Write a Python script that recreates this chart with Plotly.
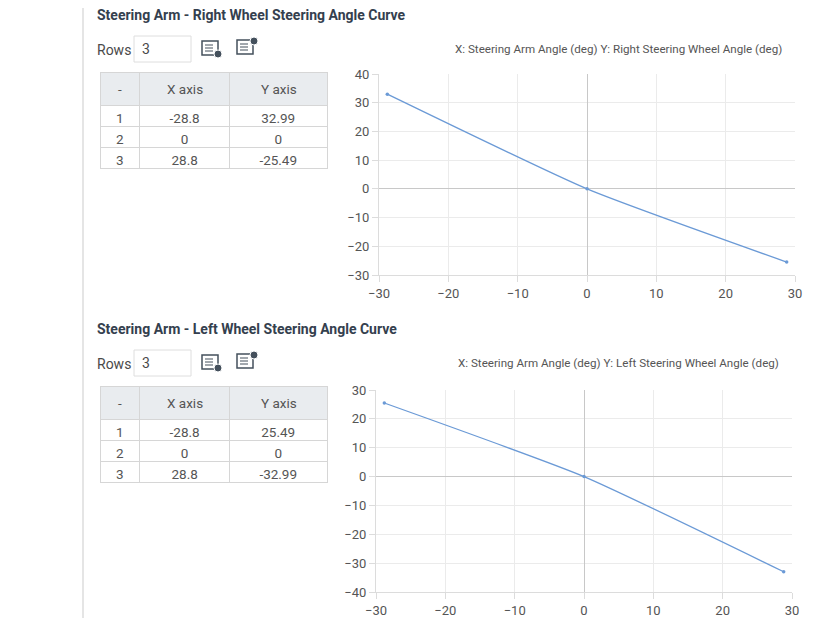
import plotly.graph_objects as go

# page body adds an 8px margin, so the figure is drawn 8px smaller and shifted
OFF = 8
W, H = 818 - OFF, 618 - OFF

# data
arm_angle = [-28.8, 0, 28.8]
right_wheel = [32.99, 0, -25.49]
left_wheel = [25.49, 0, -32.99]
row_ids = ["1", "2", "3"]
col_names = ["-", "X axis", "Y axis"]
x_ticks = [-30, -20, -10, 0, 10, 20, 30]
right_y_ticks = [-30, -20, -10, 0, 10, 20, 30, 40]
left_y_ticks = [-40, -30, -20, -10, 0, 10, 20, 30]


def px(x):
    return (x - OFF) / W


def py(y):
    return 1 - (y - OFF) / H


TITLE_C = "#34404e"
TEXT_C = "#555555"
GRID_C = "#ebebeb"
LINE_C = "#6b9ad6"
FONT = "Roboto"

fig = go.Figure()

# vertical separator on the left
fig.add_shape(type="line", xref="paper", yref="paper", x0=px(83), x1=px(83), y0=0, y1=1.02,
              line=dict(color="#dcdcdc", width=1.5))


def section(top, title, ys, chart_title, xa, ya, plot_box, y_range, y_ticks):
    # section heading
    fig.add_annotation(text="<b>" + title + "</b>", xref="paper", yref="paper",
                       x=px(95), y=py(top + 15), xanchor="left", yanchor="middle",
                       showarrow=False, font=dict(family=FONT, size=14, color=TITLE_C))
    # rows control
    fig.add_annotation(text="Rows", xref="paper", yref="paper",
                       x=px(95), y=py(top + 50), xanchor="left", yanchor="middle",
                       showarrow=False, font=dict(family=FONT, size=14, color="#4a4a4a"))
    fig.add_shape(type="path", xref="paper", yref="paper",
                  path="M {a},{b} L {c},{b} L {c},{d} L {a},{d} Z".format(
                      a=px(134), b=py(top + 36), c=px(191), d=py(top + 62)),
                  line=dict(color="#dedede", width=1), fillcolor="white")
    fig.add_annotation(text="3", xref="paper", yref="paper",
                       x=px(140), y=py(top + 49), xanchor="left", yanchor="middle",
                       showarrow=False, font=dict(family=FONT, size=14, color="#4a4a4a"))
    # two small table icons
    ic = "#44505c"
    for x0, y0 in [(202, top + 41), (237, top + 40)]:
        fig.add_shape(type="rect", xref="paper", yref="paper",
                      x0=px(x0), x1=px(x0 + 16), y0=py(y0), y1=py(y0 + 14),
                      line=dict(color=ic, width=1.5))
        for k in range(3):
            fig.add_shape(type="line", xref="paper", yref="paper",
                          x0=px(x0 + 3), x1=px(x0 + 11), y0=py(y0 + 4 + k * 3),
                          y1=py(y0 + 4 + k * 3), line=dict(color=ic, width=1))
    fig.add_shape(type="circle", xref="paper", yref="paper",
                  x0=px(214), x1=px(222), y0=py(top + 50), y1=py(top + 58),
                  line=dict(color="white", width=1), fillcolor=ic)
    fig.add_shape(type="circle", xref="paper", yref="paper",
                  x0=px(250), x1=px(258), y0=py(top + 37), y1=py(top + 45),
                  line=dict(color="white", width=1), fillcolor=ic)

    # data table (header labels placed as annotations so they sit centred)
    fig.add_trace(go.Table(
        domain=dict(x=[px(100), px(328)], y=[py(top + 175), py(top + 72)]),
        columnwidth=[40, 90, 98],
        header=dict(values=["", "", ""], height=33,
                    fill_color="#e9ecef", line_color="#d6d6d6",
                    font=dict(family=FONT, size=13.5, color=TEXT_C), align="center"),
        cells=dict(values=[row_ids, arm_angle, ys], height=21,
                   fill_color="white", line_color="#d6d6d6",
                   font=dict(family=FONT, size=13.5, color=TEXT_C), align="center"),
    ))
    for name, cx in zip(col_names, [120, 185, 279]):
        fig.add_annotation(text=name, xref="paper", yref="paper",
                           x=px(cx), y=py(top + 89), xanchor="center", yanchor="middle",
                           showarrow=False, font=dict(family=FONT, size=13.5, color=TEXT_C))

    # chart title
    fig.add_annotation(text=chart_title, xref="paper", yref="paper",
                       x=px(618), y=py(top + 49), xanchor="center", yanchor="middle",
                       showarrow=False, font=dict(family=FONT, size=11.6, color=TEXT_C))

    fig.add_trace(go.Scatter(x=arm_angle, y=ys, mode="lines+markers",
                             xaxis=xa, yaxis=ya, line=dict(color=LINE_C, width=1.3, shape="spline", smoothing=0.5),
                             marker=dict(size=3.5, color=LINE_C), showlegend=False, hoverinfo="x+y"))

    l, r, t, b = plot_box
    axis_common = dict(showgrid=True, gridcolor=GRID_C, gridwidth=1,
                       zeroline=True, zerolinecolor="#c8c8c8", zerolinewidth=1.2,
                       showline=True, linecolor="#dcdcdc", linewidth=1,
                       ticks="outside", ticklen=6, tickcolor="#dcdcdc", automargin=False,
                       tickfont=dict(family=FONT, size=13, color=TEXT_C))
    fig.update_layout(**{
        "xaxis" + xa[1:]: dict(domain=[px(l), px(r)], anchor=ya, range=[-30, 30],
                               tickvals=x_ticks, **axis_common),
        "yaxis" + ya[1:]: dict(domain=[py(b), py(t)], anchor=xa, range=y_range,
                               tickvals=y_ticks, **axis_common),
    })


section(0, "Steering Arm - Right Wheel Steering Angle Curve", right_wheel,
        "X: Steering Arm Angle (deg) Y: Right Steering Wheel Angle (deg)",
        "x", "y", (379, 795, 74, 275), [-30, 40], right_y_ticks)
section(314, "Steering Arm - Left Wheel Steering Angle Curve", left_wheel,
        "X: Steering Arm Angle (deg) Y: Left Steering Wheel Angle (deg)",
        "x2", "y2", (376, 792, 390, 592), [-40, 30], left_y_ticks)

fig.update_layout(width=W, height=H, margin=dict(l=0, r=0, t=0, b=0, autoexpand=False),
                  paper_bgcolor="white", plot_bgcolor="white", showlegend=False)

fig.write_html("out.html")
